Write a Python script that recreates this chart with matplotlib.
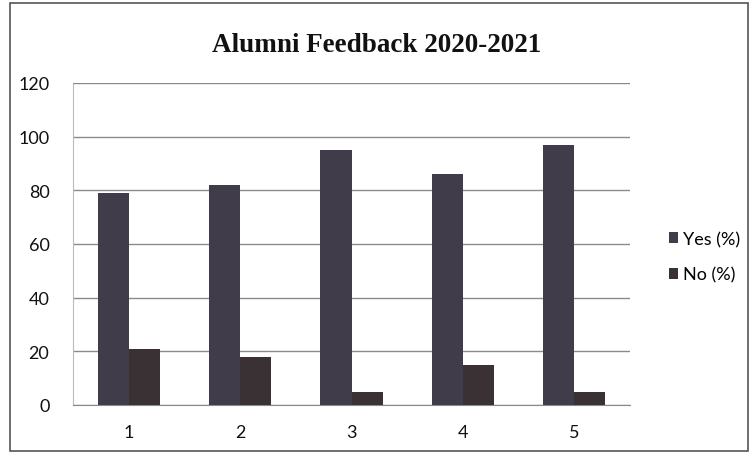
import matplotlib
matplotlib.use('Agg')
import matplotlib.pyplot as plt
import numpy as np
from matplotlib.patches import Rectangle

# Данные с картинки
categories = ['1', '2', '3', '4', '5']
yes_pct = [79, 82, 95, 86, 97]
no_pct = [21, 18, 5, 15, 5]
yticks = [0, 20, 40, 60, 80, 100, 120]

fig = plt.figure(figsize=(7.54, 4.56), dpi=100)
ax = fig.add_axes([73 / 754, 1 - 406 / 456, (630 - 73) / 754, (406 - 84) / 456])

# Рамка вокруг всей картинки
fig.patches.append(Rectangle((10 / 754, 4 / 456), 738 / 754, 448 / 456,
                             transform=fig.transFigure, fill=False,
                             edgecolor='#555555', linewidth=1.2))

x = np.arange(len(categories))
w = 0.28
ax.bar(x - w / 2, yes_pct, w, color='#403c4a', label='Yes (%)', zorder=3)
ax.bar(x + w / 2, no_pct, w, color='#3a3135', label='No (%)', zorder=3)

ax.set_xlim(-0.5, len(categories) - 0.5)
ax.set_ylim(0, 120)
ax.set_yticks(yticks)
ax.set_xticks(x)
ax.set_xticklabels(categories)
ax.grid(axis='y', color='#8a8a8a', linewidth=1.0, zorder=0)
for s in ['top', 'right']:
    ax.spines[s].set_visible(False)
ax.spines['left'].set_color('#bbbbbb')
ax.spines['left'].set_linestyle((0, (1, 1)))
ax.spines['bottom'].set_color('#8a8a8a')
ax.tick_params(axis='y', length=0, labelsize=13, pad=17, colors='#111111')
ax.tick_params(axis='x', length=0, labelsize=13, pad=14, colors='#111111')
for lab in ax.get_xticklabels() + ax.get_yticklabels():
    lab.set_fontfamily('Lato')

fig.text(0.5, 1 - 45 / 456, 'Alumni Feedback 2020-2021', ha='center', va='center',
         fontsize=19.5, fontweight='bold', family='Liberation Serif', color='#111111')

ax.legend(loc='center left', bbox_to_anchor=(1.04, 0.46), frameon=False,
          prop={'family': 'Lato', 'size': 13}, handlelength=0.5, handleheight=0.5,
          handletextpad=0.3, labelspacing=1.1)

fig.savefig('out.png', dpi=100)
